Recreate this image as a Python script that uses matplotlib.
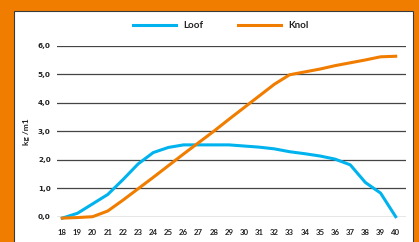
import matplotlib
matplotlib.use("Agg")
import matplotlib.pyplot as plt
from matplotlib.patches import Rectangle

plt.rcParams['font.family'] = ['Lato', 'DejaVu Sans']

# weeknummers
weeks = list(range(18, 41))
# Loof (blauw) en Knol (oranje), kg/m1
loof = [-0.05, 0.12, 0.45, 0.78, 1.3, 1.85, 2.25, 2.43, 2.52, 2.52, 2.52, 2.52,
        2.48, 2.44, 2.38, 2.28, 2.21, 2.13, 2.02, 1.82, 1.2, 0.83, 0.0]
knol = [-0.05, -0.03, 0.0, 0.2, 0.58, 0.98, 1.38, 1.79, 2.2, 2.6, 3.0, 3.42,
        3.83, 4.24, 4.65, 4.98, 5.08, 5.18, 5.3, 5.4, 5.5, 5.61, 5.63]
yticks = [0, 1, 2, 3, 4, 5, 6]
ytick_labels = ["0,0", "1,0", "2,0", "3,0", "4,0", "5,0", "6,0"]

blue = '#00B3EE'
orange = '#F07D00'

fig = plt.figure(figsize=(4.19, 2.42), dpi=100)
fig.patch.set_facecolor(orange)
# wit paneel met donkere rand
W, H = 419, 242
panel = Rectangle((14 / W, -0.1), (413 - 14) / W, (H - 11) / H + 0.1,
                  transform=fig.transFigure, facecolor='white',
                  edgecolor='#3a3a3a', linewidth=0.8, zorder=-1)
fig.add_artist(panel)

ax = fig.add_axes([56.7 / W, (H - 216.7) / H, (406 - 56.7) / W, (216.7 - 45.7) / H])
ax.set_zorder(1)
ax.set_facecolor('none')

ax.plot(weeks, loof, color=blue, lw=2.2, label='Loof', clip_on=False, zorder=3)
ax.plot(weeks, knol, color=orange, lw=2.2, label='Knol', clip_on=False, zorder=3)

ax.set_xlim(17.63, 40.68)
ax.set_ylim(0, 6)
ax.set_yticks(yticks)
ax.set_yticklabels(ytick_labels, family='DejaVu Sans')
ax.set_xticks(weeks)
ax.set_xticklabels([str(w) for w in weeks])
for lab in ax.get_xticklabels() + ax.get_yticklabels():
    lab.set_fontweight('bold')
    lab.set_color('#222222')
ax.tick_params(axis='x', length=0, pad=9, labelsize=5.6)
ax.tick_params(axis='y', length=0, pad=4.3, labelsize=5.2)
ax.grid(axis='y', color='#444444', lw=0.9)
ax.set_axisbelow(True)
for s in ax.spines.values():
    s.set_visible(False)

ax.set_ylabel('kg /m1', fontsize=6, fontweight='bold', color='#222222')
ax.yaxis.set_label_coords(-0.077, 0.5)

leg = ax.legend(loc='center', bbox_to_anchor=(221 / W, 1 - 26 / H),
                bbox_transform=fig.transFigure, ncol=2, frameon=False,
                handlelength=4.4, handletextpad=0.8, columnspacing=3.5,
                prop={'size': 7, 'weight': 'bold'})
for t in leg.get_texts():
    t.set_color('#222222')

fig.savefig('out.png', dpi=100, facecolor=fig.get_facecolor())
